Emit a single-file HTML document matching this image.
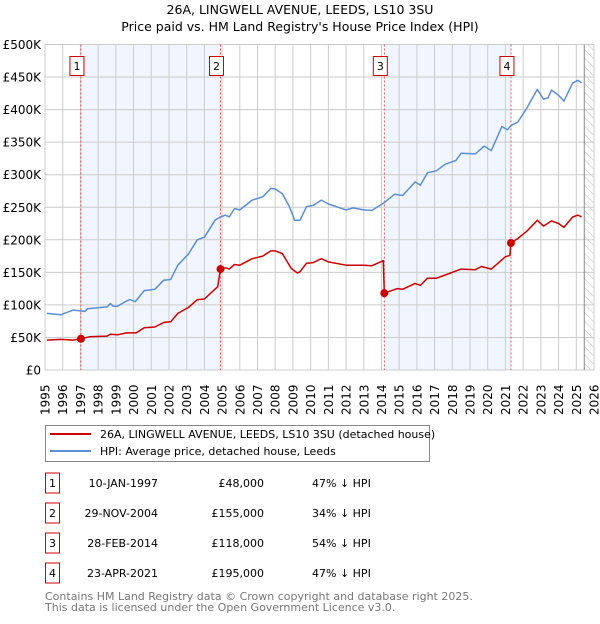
<!DOCTYPE html>
<html><head><meta charset="utf-8"><style>
body{margin:0;background:#fff;font-family:"DejaVu Sans","Liberation Sans",sans-serif;}
svg text{font-family:"DejaVu Sans","Liberation Sans",sans-serif;}
</style></head><body>
<svg id="chart" width="600" height="620" xmlns="http://www.w3.org/2000/svg">
<text x="300" y="14" text-anchor="middle" font-size="12.5">26A, LINGWELL AVENUE, LEEDS, LS10 3SU</text>
<text x="300" y="31" text-anchor="middle" font-size="12.5">Price paid vs. HM Land Registry's House Price Index (HPI)</text>
<g id="plot"></g>
<g>
<rect x="45.5" y="425.5" width="384" height="36" fill="#fff" stroke="#888"/>
<line x1="50" y1="434" x2="91" y2="434" stroke="#cc0000" stroke-width="2"/>
<text x="100" y="438" font-size="11">26A, LINGWELL AVENUE, LEEDS, LS10 3SU (detached house)</text>
<line x1="50" y1="451" x2="91" y2="451" stroke="#5b8fd4" stroke-width="2"/>
<text x="100" y="455" font-size="11">HPI: Average price, detached house, Leeds</text>
</g>
<g id="table"></g>
<text x="45" y="600" font-size="11" fill="#777">Contains HM Land Registry data © Crown copyright and database right 2025.</text>
<text x="45" y="611" font-size="11" fill="#777">This data is licensed under the Open Government Licence v3.0.</text>
</svg>
<script>
const yTicks=[0,50,100,150,200,250,300,350,400,450,500];
const yTickLabels=["£0","£50K","£100K","£150K","£200K","£250K","£300K","£350K","£400K","£450K","£500K"];
const years=[1995,1996,1997,1998,1999,2000,2001,2002,2003,2004,2005,2006,2007,2008,2009,2010,2011,2012,2013,2014,2015,2016,2017,2018,2019,2020,2021,2022,2023,2024,2025,2026];
const hpiT=[1995.1,1995.9,1996.6,1997.25,1997.4,1998.5,1998.7,1998.85,1999.1,1999.6,1999.8,2000.1,2000.6,2001.2,2001.7,2002.1,2002.5,2003.1,2003.6,2004.0,2004.6,2004.9,2005.2,2005.4,2005.7,2006.0,2006.7,2007.3,2007.75,2008.0,2008.4,2008.8,2009.1,2009.4,2009.77,2010.15,2010.6,2011.0,2012.0,2012.4,2013.0,2013.45,2014.1,2014.75,2015.2,2015.9,2016.2,2016.6,2017.1,2017.6,2018.2,2018.5,2019.3,2019.8,2020.2,2020.8,2021.1,2021.35,2021.7,2022.2,2022.8,2023.15,2023.4,2023.6,2024.0,2024.3,2024.8,2025.1,2025.3];
const hpiV=[87,85,92,90,94,97,102,98,98,106,108,105,122,124,138,139,161,178,200,204,230,235,238,235,248,246,261,266,279,278,271,251,230,230,251,253,261,255,246,249,246,245,256,270,268,289,284,303,306,316,322,333,332,344,337,374,369,376,381,402,431,416,418,430,422,413,441,445,441];
const ppT=[1995.1,1995.9,1996.6,1997.03,1997.5,1998.5,1998.7,1999.1,1999.6,2000.15,2000.6,2001.2,2001.7,2002.1,2002.5,2003.1,2003.6,2004.0,2004.75,2004.91,2005.2,2005.4,2005.7,2006.0,2006.7,2007.3,2007.75,2008.0,2008.4,2008.9,2009.25,2009.4,2009.77,2010.15,2010.6,2011.0,2012.0,2013.0,2013.45,2014.1,2014.16,2014.9,2015.2,2015.9,2016.2,2016.6,2017.1,2017.6,2018.5,2019.3,2019.65,2020.2,2021.0,2021.25,2021.31,2021.7,2022.2,2022.8,2023.15,2023.6,2024.0,2024.3,2024.8,2025.1,2025.3];
const ppV=[46,47,46,48,51,52,55,54,57,57,65,66,73,74,87,96,108,109,128,155,157,155,162,161,171,175,183,183,179,156,149,151,164,165,171,166,161,161,160,168,118,125,124,133,130,141,141,146,155,154,159,155,174,176,195,202,213,230,221,229,225,219,235,238,235];
const saleT=[1997.03,2004.91,2014.16,2021.31];
const saleV=[48,155,118,195];
const saleLabels=["1","2","3","4"];
const saleDates=["10-JAN-1997","29-NOV-2004","28-FEB-2014","23-APR-2021"];
const salePrices=["£48,000","£155,000","£118,000","£195,000"];
const salePct=["47% ↓ HPI","34% ↓ HPI","54% ↓ HPI","47% ↓ HPI"];
const NS="http://www.w3.org/2000/svg";
const X0=45,X1=594,Y0=370,Y1=44.5;
const xs=t=>X0+(t-1995)*(X1-X0)/31;
const ys=v=>Y0-v*(Y0-Y1)/500;
const plot=document.getElementById('plot');
function mk(tag,at,parent){const e=document.createElementNS(NS,tag);for(const k in at)e.setAttribute(k,at[k]);(parent||plot).appendChild(e);return e;}
// shading
for(let i=0;i<4;i+=2){const r=mk('rect',{x:xs(saleT[i]),y:Y1,width:xs(saleT[i+1])-xs(saleT[i]),height:Y0-Y1,fill:'#eef3fd',opacity:0.8});

}
// hatch
const defs=mk('defs',{});const pat=mk('pattern',{id:'hatch',width:6,height:6,patternUnits:'userSpaceOnUse',patternTransform:'rotate(-45)'},defs);
mk('line',{x1:0,y1:0,x2:0,y2:6,stroke:'#bbb','stroke-width':1},pat);
const hx=xs(2025.45);
const hr=mk('rect',{x:hx,y:Y1,width:X1-hx,height:Y0-Y1,fill:'url(#hatch)'});


// grid
years.forEach(y=>{const l=mk('line',{x1:xs(y),x2:xs(y),y1:Y1,y2:Y0,stroke:'#ccc','stroke-width':1});


const t=mk('text',{x:0,y:0,'font-size':12,transform:`translate(${xs(y)+4.5},${415}) rotate(-90)`});t.textContent=y;

});
yTicks.forEach((v,i)=>{const l=mk('line',{x1:X0,x2:X1,y1:ys(v),y2:ys(v),stroke:'#ccc','stroke-width':1});


const t=mk('text',{x:41,y:ys(v)+4.5,'font-size':12,'text-anchor':'end'});t.textContent=yTickLabels[i];

});
mk('line',{x1:hx,x2:hx,y1:Y1,y2:Y0,stroke:'#888','stroke-width':1});
// sale lines & boxes
saleT.forEach((t,i)=>{const l=mk('line',{x1:xs(t),x2:xs(t),y1:Y1,y2:Y0,stroke:'#e05555','stroke-width':1,'stroke-dasharray':'2,2'});


const g=mk('g',{});


mk('rect',{x:xs(t)-11,y:56.5,width:14,height:19,fill:'#fff',stroke:'#cc0000'},g);
const tx=mk('text',{x:xs(t)-4,y:70,'font-size':11,'text-anchor':'middle'},g);tx.textContent=saleLabels[i];});
// series
const line=(T,V,c,name)=>{const p=mk('path',{d:T.map((t,i)=>(i?'L':'M')+xs(t).toFixed(1)+','+ys(V[i]).toFixed(1)).join(''),fill:'none',stroke:c,'stroke-width':1.5,'stroke-linejoin':'round'});

};
line(hpiT,hpiV,'#5b8fd4','hpi-line');
line(ppT,ppV,'#cc0000','price-paid-line');
saleT.forEach((t,i)=>{const c=mk('circle',{cx:xs(t),cy:ys(saleV[i]),r:4,fill:'#cc0000'});

});
// table
const tb=document.getElementById('table');
saleLabels.forEach((s,i)=>{const cy=483+i*30;
const g=mk('g',{},tb);


mk('rect',{x:45.5,y:cy-10,width:14,height:20,fill:'#fff',stroke:'#cc0000'},g);
const a=mk('text',{x:52.5,y:cy+4,'font-size':11,'text-anchor':'middle'},g);a.textContent=s;
const b=mk('text',{x:158,y:cy+4,'font-size':11,'text-anchor':'end'},g);b.textContent=saleDates[i];
const c=mk('text',{x:264,y:cy+4,'font-size':11,'text-anchor':'end'},g);c.textContent=salePrices[i];
const d=mk('text',{x:312,y:cy+4,'font-size':11},g);d.textContent=salePct[i];});
</script>
</body></html>
